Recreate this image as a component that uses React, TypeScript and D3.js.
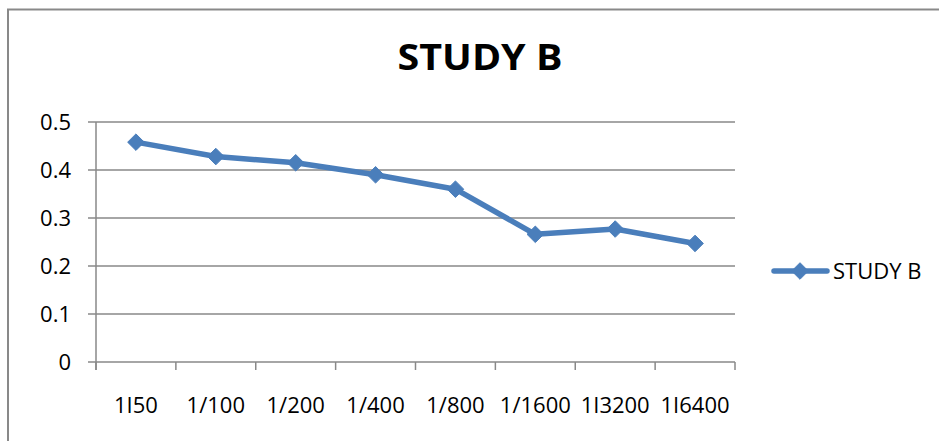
import React from "react";
import * as d3 from "d3";

const categories = ["1I50", "1/100", "1/200", "1/400", "1/800", "1/1600", "1I3200", "1I6400"];
const studyB = [0.458, 0.428, 0.415, 0.39, 0.36, 0.266, 0.277, 0.247];
const yTicks = [0, 0.1, 0.2, 0.3, 0.4, 0.5];
const seriesName = "STUDY B";
const title = "STUDY B";

const W = 939;
const H = 441;
const plot = { left: 96, right: 735, top: 122, bottom: 362 };
const BLUE = "#4A7EBB";
const GRID = "#898989";
const FONT = "'Open Sans', 'Liberation Sans', sans-serif";

export default function App() {
  const x = d3.scaleBand<string>().domain(categories).range([plot.left, plot.right]).padding(0);
  const y = d3.scaleLinear().domain([0, 0.5]).range([plot.bottom, plot.top]);
  const cx = (c: string) => (x(c) as number) + x.bandwidth() / 2;
  const line = d3
    .line<number>()
    .x((_, i) => cx(categories[i]))
    .y((d) => y(d));
  const diamond = d3.symbol().type(d3.symbolDiamond2).size(175)();
  const boundaries = d3.range(categories.length + 1).map((i) => plot.left + i * x.bandwidth());

  return (
    <svg
      width={W}
      height={H}
      style={{ position: "absolute", left: 0, top: 0, background: "#fff" }}
      fontFamily={FONT}
    >
      <rect x={8} y={9.5} width={W + 20} height={H + 20} fill="#fff" stroke={GRID} strokeWidth={2} />
      <text
        x={480}
        y={70}
        textAnchor="middle"
        fontSize={35}
        fontWeight="bold"
        fill="#000"
        textLength={165}
        lengthAdjust="spacingAndGlyphs"
      >
        {title}
      </text>
      {yTicks.map((t) => (
        <g key={t}>
          <line x1={88} x2={plot.right} y1={y(t)} y2={y(t)} stroke={GRID} strokeWidth={1.5} />
          <text x={71} y={y(t)} dy="0.36em" textAnchor="end" fontSize={22} fill="#000">
            {String(t)}
          </text>
        </g>
      ))}
      <line x1={plot.left} x2={plot.left} y1={plot.top} y2={plot.bottom + 8} stroke={GRID} strokeWidth={1.5} />
      {boundaries.map((b, i) => (
        <line key={i} x1={b} x2={b} y1={plot.bottom} y2={plot.bottom + 8} stroke={GRID} strokeWidth={1.5} />
      ))}
      {categories.map((c) => (
        <text key={c} x={cx(c)} y={413} textAnchor="middle" fontSize={22} fill="#000">
          {c}
        </text>
      ))}
      <path d={line(studyB) || ""} fill="none" stroke={BLUE} strokeWidth={5.5} strokeLinejoin="round" />
      {studyB.map((v, i) => (
        <path key={i} d={diamond || ""} transform={`translate(${cx(categories[i])},${y(v)})`} fill={BLUE} stroke={BLUE} strokeWidth={1} strokeLinejoin="round" />
      ))}
      <g>
        <line x1={774} x2={827} y1={271} y2={271} stroke={BLUE} strokeWidth={5.5} strokeLinecap="round" />
        <path d={diamond || ""} transform="translate(800,271)" fill={BLUE} stroke={BLUE} strokeWidth={1} />
        <text x={833} y={271} dy="0.36em" fontSize={22} fill="#000">
          {seriesName}
        </text>
      </g>
    </svg>
  );
}
